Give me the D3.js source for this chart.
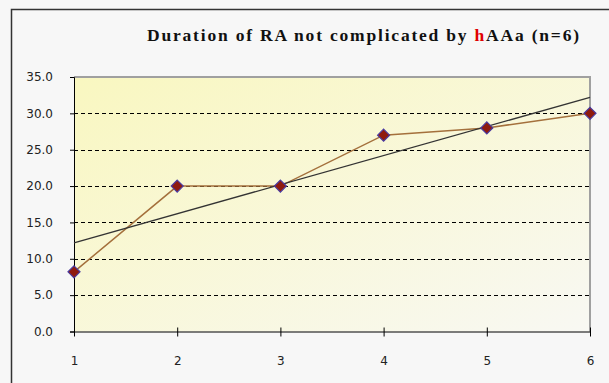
<!DOCTYPE html>
<html><head><meta charset="utf-8">
<script src="https://cdn.jsdelivr.net/npm/d3@7"></script>
<style>html,body{margin:0;padding:0;background:#f7f7f7;}svg{display:block;}
.ttl{font-family:"Liberation Serif","Times New Roman","DejaVu Serif",serif;font-weight:bold;}
</style>
</head><body>
<script>
const categories = [1, 2, 3, 4, 5, 6];
const values = [8.2, 20.0, 20.0, 27.0, 28.0, 30.0];
const yTicks = [0, 5, 10, 15, 20, 25, 30, 35];
const titleParts = ["Duration of RA not complicated by ", "h", "AAa (n=6)"];

const W = 609, H = 383;
const m = {left: 74, right: 19, top: 77, bottom: 51.5};
const svg = d3.select("body").append("svg").attr("width", W).attr("height", H);

svg.append("rect").attr("x", 0).attr("y", 0).attr("width", W).attr("height", H).attr("fill", "#f7f7f7");
svg.append("rect").attr("x", 11.5).attr("y", 9.5).attr("width", W + 20).attr("height", H + 20)
  .attr("fill", "none").attr("stroke", "#333").attr("stroke-width", 1.5);

const x = d3.scaleLinear().domain([1, 6]).range([m.left, W - m.right]);
const y = d3.scaleLinear().domain([0, 35]).range([H - m.bottom, m.top]);

const defs = svg.append("defs");
const g = defs.append("linearGradient").attr("id", "bg").attr("x1", "0%").attr("y1", "0%").attr("x2", "100%").attr("y2", "100%");
g.append("stop").attr("offset", "0%").attr("stop-color", "#f9f7c0");
g.append("stop").attr("offset", "100%").attr("stop-color", "#f8f8f3");

svg.append("rect").attr("x", x(1)).attr("y", y(35)).attr("width", x(6) - x(1)).attr("height", y(0) - y(35))
  .attr("fill", "url(#bg)");
svg.append("path").attr("d", `M${x(1)},${y(35)}H${x(6)}V${y(0)}`).attr("fill", "none").attr("stroke", "#a0a0a0").attr("stroke-width", 2);

svg.append("g").selectAll("line").data(yTicks.filter(d => d > 0 && d < 35)).join("line")
  .attr("x1", x(1)).attr("x2", x(6)).attr("y1", d => Math.round(y(d)) + 0.5).attr("y2", d => Math.round(y(d)) + 0.5)
  .attr("stroke", "#000").attr("stroke-width", 1).attr("stroke-dasharray", "4,3");

const yAxis = d3.axisLeft(y).tickValues(yTicks).tickFormat(d3.format(".1f")).tickSize(4).tickPadding(17);
const gy = svg.append("g").attr("transform", `translate(${x(1)},0)`).call(yAxis);
gy.selectAll("text").attr("font-family", "DejaVu Sans, Verdana, sans-serif").attr("font-size", 12).attr("fill", "#222");

const xAxis = d3.axisBottom(x).tickValues(categories).tickFormat(d3.format("d")).tickSizeInner(5).tickSizeOuter(0).tickPadding(20);
const gx = svg.append("g").attr("transform", `translate(0,${y(0)})`).call(xAxis);
gx.selectAll(".tick line").attr("y1", -4);
gx.selectAll("text").attr("font-family", "DejaVu Sans, Verdana, sans-serif").attr("font-size", 12).attr("fill", "#222");
svg.selectAll(".domain").attr("stroke", "#000");

const pts = categories.map((c, i) => [c, values[i]]);
svg.append("path").datum(pts).attr("d", d3.line().x(d => x(d[0])).y(d => y(d[1])))
  .attr("fill", "none").attr("stroke", "#a4703c").attr("stroke-width", 1.5);

const mx = d3.mean(pts, d => d[0]), my = d3.mean(pts, d => d[1]);
const slope = d3.sum(pts, d => (d[0] - mx) * (d[1] - my)) / d3.sum(pts, d => (d[0] - mx) ** 2);
const icpt = my - slope * mx;
svg.append("line").attr("x1", x(1)).attr("y1", y(icpt + slope)).attr("x2", x(6)).attr("y2", y(icpt + slope * 6))
  .attr("stroke", "#333").attr("stroke-width", 1.3);

svg.append("g").selectAll("path").data(pts).join("path")
  .attr("transform", d => `translate(${x(d[0])},${y(d[1])})`)
  .attr("d", "M0,-6L6,0L0,6L-6,0Z")
  .attr("fill", "#8f1a0e").attr("stroke", "#4a3aa0").attr("stroke-width", 1.2);

const t = svg.append("text").attr("class", "ttl").attr("x", 147).attr("y", 41)
  .attr("font-size", 17.5)
  .attr("textLength", 432).attr("lengthAdjust", "spacing").attr("fill", "#111");
t.selectAll("tspan").data(titleParts).join("tspan").text(d => d).attr("fill", (d, i) => i === 1 ? "#e00000" : "#111");
</script>
</body></html>
